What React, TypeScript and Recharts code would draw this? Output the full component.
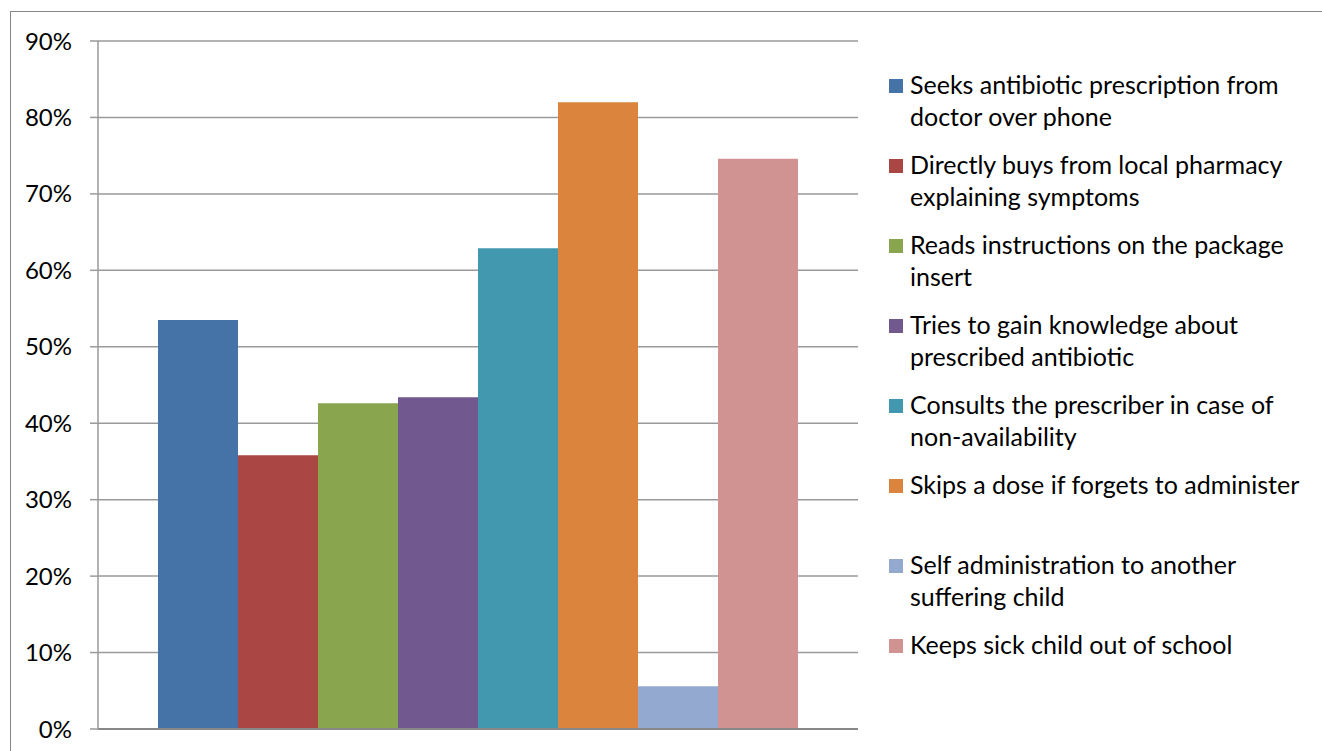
import React from 'react';
import { BarChart, Bar, XAxis, YAxis, CartesianGrid, Legend } from 'recharts';

const categories = ['Practice'];
const seriesNames = [
  'Seeks antibiotic prescription from doctor over phone',
  'Directly buys from local pharmacy explaining symptoms',
  'Reads instructions on the package insert',
  'Tries to gain knowledge about prescribed antibiotic',
  'Consults the prescriber in case of non-availability',
  'Skips a dose if forgets to administer',
  'Self administration to another suffering child',
  'Keeps sick child out of school',
];
const seriesValues = [53.5, 35.8, 42.6, 43.4, 62.9, 82.0, 5.6, 74.6];
const seriesColors = ['#4572A7', '#AA4643', '#89A54E', '#71588F', '#4198AF', '#DB843D', '#93A9CF', '#D19392'];
const yTicks = [0, 10, 20, 30, 40, 50, 60, 70, 80, 90];

const data = categories.map((name) => {
  const row: Record<string, string | number> = { name };
  seriesNames.forEach((s, i) => {
    row['s' + i] = seriesValues[i];
  });
  return row;
});

const FONT = 'Lato, "Liberation Sans", sans-serif';

const renderLegend = (props: any) => {
  const payload = [...(props.payload || [])].sort(
    (a: any, b: any) => seriesNames.indexOf(a.value) - seriesNames.indexOf(b.value)
  );
  return (
    <div style={{ fontFamily: FONT, fontSize: 25, color: '#000' }}>
      {payload.map((p: any, i: number) => (
        <div key={i} style={{ height: 80, display: 'flex', alignItems: 'flex-start' }}>
          <div style={{ width: 14, height: 14, background: p.color, marginTop: 11, marginRight: 7, flexShrink: 0 }} />
          <div style={{ width: 405, lineHeight: '32px' }}>{p.value}</div>
        </div>
      ))}
    </div>
  );
};

export default function App() {
  return (
    <div style={{ position: 'absolute', left: 0, top: 0, width: 1322, height: 751, overflow: 'hidden', background: '#fff' }}>
      <div style={{ position: 'absolute', left: 10, top: 11, width: 1400, height: 900, borderTop: '1px solid #888', borderLeft: '1px solid #888' }} />
      <div style={{ position: 'absolute', left: 0, top: 0 }}>
        <BarChart width={1322} height={751} data={data} margin={{ top: 41, right: 464, left: 0, bottom: 0 }} barCategoryGap={60} barGap={0}>
          <CartesianGrid vertical={false} stroke="#9a9a9a" strokeWidth={1.5} />
          <XAxis dataKey="name" tick={false} tickLine={false} height={22} axisLine={{ stroke: '#888', strokeWidth: 2 }} />
          <YAxis
            width={98}
            domain={[0, 90]}
            ticks={yTicks}
            interval={0}
            tickSize={8}
            tickMargin={18}
            tickFormatter={(v: number) => `${v}%`}
            axisLine={{ stroke: '#9a9a9a', strokeWidth: 1.5 }}
            tickLine={{ stroke: '#9a9a9a', strokeWidth: 1.5 }}
            tick={{ fill: '#000', fontSize: 24, fontFamily: FONT }}
          />
          <Legend
            layout="horizontal"
            verticalAlign="middle"
            align="center"
            content={renderLegend}
            wrapperStyle={{ left: 889, top: 68, width: 430 }}
          />
          {seriesNames.map((s, i) => (
            <Bar key={s} dataKey={'s' + i} name={s} fill={seriesColors[i]} isAnimationActive={false} />
          ))}
        </BarChart>
      </div>
    </div>
  );
}
